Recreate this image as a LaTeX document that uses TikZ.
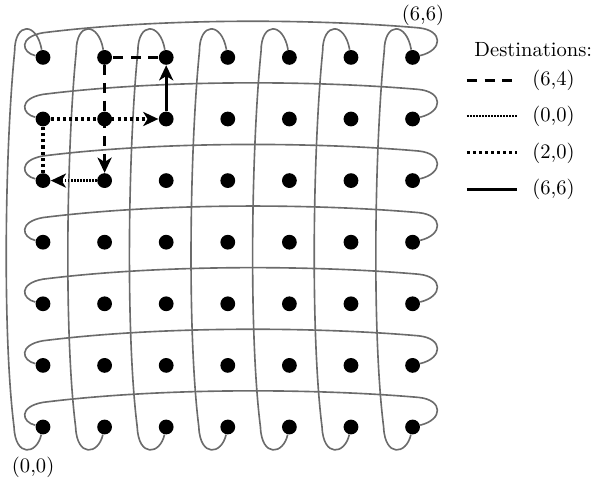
\documentclass[tikz,border=0pt]{standalone}
\usetikzlibrary{arrows.meta,backgrounds}
\begin{document}
\begin{tikzpicture}[
  dot/.style={circle,fill=black,inner sep=0pt,minimum size=0.24cm},
  wrap/.style={draw=black!58,line width=0.75pt},
  route/.style={line width=1.4pt},
  toA/.style={route,dash pattern=on 4.6pt off 3.6pt},
  toB/.style={route,line width=1.2pt,dash pattern=on 0.8pt off 0.6pt},
  toC/.style={route,dash pattern=on 1.4pt off 1.4pt},
  toD/.style={route},
  >={Stealth[length=7pt,width=6.5pt,inset=2pt]},
  font=\fontsize{9.5}{11}\selectfont]
\useasboundingbox (-0.698,-0.893) rectangle (8.929,6.932);

% mesh of routers
\foreach \c in {0,...,6}
  \foreach \j in {0,...,6}
    \node(d-\c-\j) at (\c,\j)[dot]{};

% wrap-around links
\begin{scope}[on background layer]
\foreach \j in {0,...,6}
  \draw[wrap] (d-6-\j) .. controls (6.5,\j+0.12) and (6.5,\j+0.44) .. (6.1,\j+0.48)
    .. controls (4.5,\j+0.62) and (2,\j+0.65) .. (0,\j+0.4)
    .. controls (-0.4,\j+0.33) and (-0.35,\j+0.08) .. (d-0-\j);
\foreach \c in {0,...,6}
  \draw[wrap] (d-\c-6) .. controls (\c-0.1,6.58) and (\c-0.46,6.58) .. (\c-0.46,6.1)
    .. controls (\c-0.62,4.5) and (\c-0.66,1.5) .. (\c-0.47,0)
    .. controls (\c-0.45,-0.5) and (\c-0.1,-0.45) .. (d-\c-0);
\end{scope}

% routes
\draw[toA,->] (d-2-6) -- (d-1-6) -- (d-1-4);
\draw[toB,->] (d-1-4) -- (d-0-4);
\draw[toC,->] (d-0-4) -- (d-0-5) -- (d-2-5);
\draw[toD,->] (d-2-5) -- (d-2-6);

\node(top) at (6.17,6.69){(6,6)};
\node(bottom) at (-0.16,-0.65){(0,0)};

% legend
\node(legend) at (6.88,6.12)[anchor=west]{Destinations:};
\node(labA) at (7.82,5.63)[anchor=west]{(6,4)};
\node(labB) at (7.82,5.05)[anchor=west]{(0,0)};
\node(labC) at (7.82,4.45)[anchor=west]{(2,0)};
\node(labD) at (7.82,3.85)[anchor=west]{(6,6)};
\coordinate(a0) at (6.88,5.63); \coordinate(a1) at (7.69,5.63);
\coordinate(b0) at (6.88,5.05); \coordinate(b1) at (7.69,5.05);
\coordinate(c0) at (6.88,4.45); \coordinate(c1) at (7.69,4.45);
\coordinate(e0) at (6.88,3.85); \coordinate(e1) at (7.69,3.85);
\draw[toA] (a0) -- (a1);
\draw[toB] (b0) -- (b1);
\draw[toC] (c0) -- (c1);
\draw[toD] (e0) -- (e1);
\end{tikzpicture}
\end{document}
